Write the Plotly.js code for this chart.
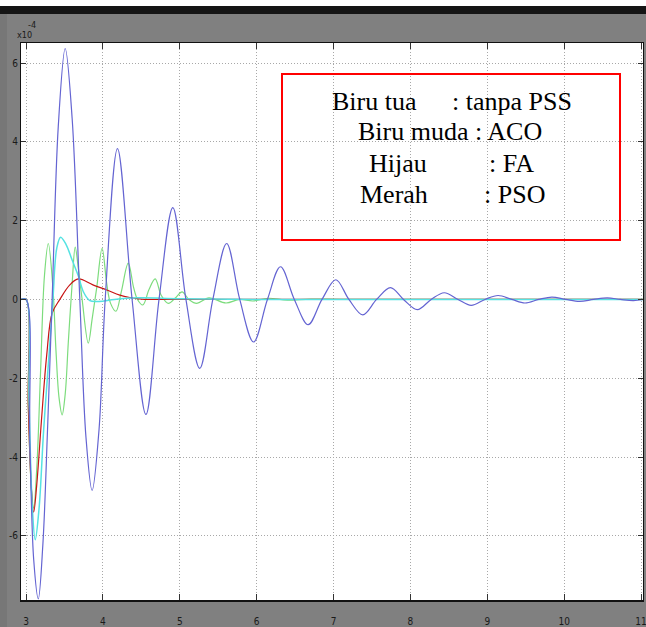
<!DOCTYPE html>
<html>
<head>
<meta charset="utf-8">
<script src="https://cdn.plot.ly/plotly-3.0.1.min.js"></script>
<style>html,body{margin:0;padding:0;background:#808080;}#chart{width:646px;height:627px;}</style>
</head>
<body>
<div id="chart"></div>
<script>
// ---- data (values in units of 1e-4) ----
const tBlue = [2.935,3.0,3.05,3.10,3.16,3.22,3.28,3.34,3.42,3.51,3.60,3.70,3.78,3.86,3.95,4.03,4.19,4.38,4.56,4.73,4.91,5.08,5.26,5.43,5.61,5.78,5.96,6.14,6.31,6.49,6.67,6.85,7.03,7.20,7.38,7.56,7.74,7.91,8.09,8.27,8.44,8.62,8.79,8.97,9.14,9.32,9.49,9.67,9.84,10.02,10.20,10.38,10.56,10.73,10.90,11.03];
const yBlue = [0,0,-3.6,-6.6,-7.6,-6.2,-3.3,0,4.4,6.37,4.6,0,-3.5,-4.85,-3.3,0,3.83,0,-2.92,0,2.33,0,-1.75,0,1.42,0,-1.08,0,0.83,0,-0.64,0,0.50,0,-0.39,0,0.30,0,-0.26,0,0.17,0,-0.15,0,0.10,0,-0.09,0,0.06,0,-0.05,0,0.04,0,-0.03,0];

const tCyan = [2.935,3.0,3.04,3.08,3.12,3.17,3.23,3.30,3.35,3.40,3.45,3.52,3.60,3.68,3.75,3.83,3.95,4.15,4.45,5.0,6.0,8.0,11.03];
const yCyan = [0,0,-2.6,-5.2,-6.1,-5.3,-3.3,-1.4,0.0,1.3,1.58,1.4,1.0,0.6,0.18,-0.03,-0.05,0.0,0.04,0.02,0.0,0.0,0.0];

const tGreen = [2.935,3.0,3.03,3.07,3.10,3.14,3.19,3.24,3.29,3.35,3.39,3.43,3.47,3.51,3.55,3.60,3.64,3.68,3.73,3.81,3.86,3.92,3.99,4.05,4.10,4.17,4.24,4.33,4.40,4.45,4.52,4.60,4.68,4.76,4.85,4.95,5.03,5.12,5.22,5.38,5.60,5.78,5.95,6.15,6.40,6.70,7.20,11.03];
const yGreen = [0,0,-2.7,-4.8,-5.3,-4.3,-1.8,0.6,1.42,0.3,-1.3,-2.5,-2.93,-2.4,-1.1,0.4,1.33,0.8,0.0,-1.11,-0.5,0.3,1.30,0.4,-0.1,-0.3,0.2,0.92,0.3,0.0,-0.14,0.25,0.52,0.1,-0.1,0.05,0.19,0.0,-0.1,0.04,-0.09,0.0,-0.04,0.03,-0.02,0.01,0.0,0.0];

const tRed = [2.935,3.0,3.03,3.07,3.10,3.14,3.20,3.27,3.34,3.44,3.57,3.68,3.87,4.05,4.22,4.35,4.50,5.0,11.03];
const yRed = [0,0,-2.7,-4.8,-5.4,-4.7,-3.1,-1.4,-0.35,0.0,0.37,0.52,0.37,0.24,0.11,0.05,0.01,0.0,0.0];

const xTicks = [3,4,5,6,7,8,9,10,11];
const yTicks = [-6,-4,-2,0,2,4,6];
const yTickText = ['-6','-4','-2','0','2','4','6'];

const legendLines = [
  ['Biru tua', ': tanpa PSS'],
  ['Biru muda : ACO', ''],
  ['Hijau', ': FA'],
  ['Merah', ': PSO']
];

// ---- layout geometry (pixels) ----
const L = 21, R = 643, T = 43, B = 600;
const fx = px => (px - L) / (R - L);
const fy = py => (B - py) / (B - T);

const traces = [
  {x: tGreen, y: yGreen, mode: 'lines', line: {color: '#7ddc7d', width: 1.2, shape: 'spline', smoothing: 1}},
  {x: tRed, y: yRed, mode: 'lines', line: {color: '#c81414', width: 1.2, shape: 'spline', smoothing: 1}},
  {x: tCyan, y: yCyan, mode: 'lines', line: {color: '#55e2e2', width: 1.5, shape: 'spline', smoothing: 1}},
  {x: tBlue, y: yBlue, mode: 'lines', line: {color: '#6464d2', width: 1.2, shape: 'spline', smoothing: 1}}
];

const tickFont = {family: '"Liberation Sans Narrow", "DejaVu Sans Condensed", "Liberation Sans", sans-serif', size: 10, color: '#1a1a1a'};
const serif = {family: '"Liberation Serif", "Times New Roman", serif', size: 26, color: '#000'};

const lineY = [101, 132, 163, 194];
const leftX = [330, 356, 367, 358];
const rightX = [450, null, 487, 482];
const annotations = [];
legendLines.forEach((ln, i) => {
  annotations.push({xref: 'paper', yref: 'paper', x: fx(leftX[i]), y: fy(lineY[i]), xanchor: 'left', yanchor: 'middle', text: ln[0], showarrow: false, font: serif});
  if (ln[1]) annotations.push({xref: 'paper', yref: 'paper', x: fx(rightX[i]), y: fy(lineY[i]), xanchor: 'left', yanchor: 'middle', text: ln[1], showarrow: false, font: serif});
});
annotations.push({xref: 'paper', yref: 'paper', x: fx(24), y: fy(35), xanchor: 'center', yanchor: 'middle', text: 'x10', showarrow: false, font: {family: tickFont.family, size: 9, color: '#1a1a1a'}});
annotations.push({xref: 'paper', yref: 'paper', x: fx(32), y: fy(25), xanchor: 'center', yanchor: 'middle', text: '-4', showarrow: false, font: {family: tickFont.family, size: 9, color: '#1a1a1a'}});

const shapes = [
  {type: 'rect', xref: 'paper', yref: 'paper', x0: fx(0), x1: fx(646), y0: fy(6), y1: fy(0), fillcolor: '#ffffff', line: {width: 0}},
  {type: 'rect', xref: 'paper', yref: 'paper', x0: fx(0), x1: fx(646), y0: fy(14), y1: fy(6), fillcolor: '#151515', line: {width: 0}},
  {type: 'rect', xref: 'paper', yref: 'paper', x0: fx(0), x1: fx(7), y0: fy(627), y1: fy(14), fillcolor: '#777777', line: {width: 0}},
  {type: 'rect', xref: 'paper', yref: 'paper', x0: fx(282), x1: fx(620), y0: fy(240), y1: fy(74), fillcolor: 'rgba(0,0,0,0)', line: {color: '#ff0000', width: 2}}
];

const layout = {
  width: 646, height: 627,
  margin: {l: L, r: 646 - R, t: T, b: 627 - B, pad: 0},
  paper_bgcolor: '#808080',
  plot_bgcolor: '#ffffff',
  showlegend: false,
  xaxis: {
    range: [2.935, 11.025], tickvals: xTicks, ticktext: xTicks.map(String),
    ticks: 'inside', ticklen: 6, tickcolor: '#333', tickwidth: 1,
    showline: true, linecolor: '#111', linewidth: 1.5, mirror: 'ticks',
    showgrid: true, gridcolor: '#a8a8a8', griddash: '1px,2px', gridwidth: 1,
    zeroline: false, tickfont: tickFont, ticklabelstandoff: 11, ticklabeloverflow: 'allow'
  },
  yaxis: {
    range: [-7.63, 6.51], tickvals: yTicks, ticktext: yTickText,
    ticks: 'inside', ticklen: 5, tickcolor: '#333', tickwidth: 1,
    showline: true, linecolor: '#111', linewidth: 1, mirror: 'ticks',
    showgrid: true, gridcolor: '#a8a8a8', griddash: '1px,2px', gridwidth: 1,
    zeroline: false, tickfont: tickFont, ticklabelstandoff: 0, ticklabeloverflow: 'allow'
  },
  shapes: shapes,
  annotations: annotations
};

Plotly.newPlot('chart', traces, layout, {displayModeBar: false, staticPlot: true});
</script>
</body>
</html>
